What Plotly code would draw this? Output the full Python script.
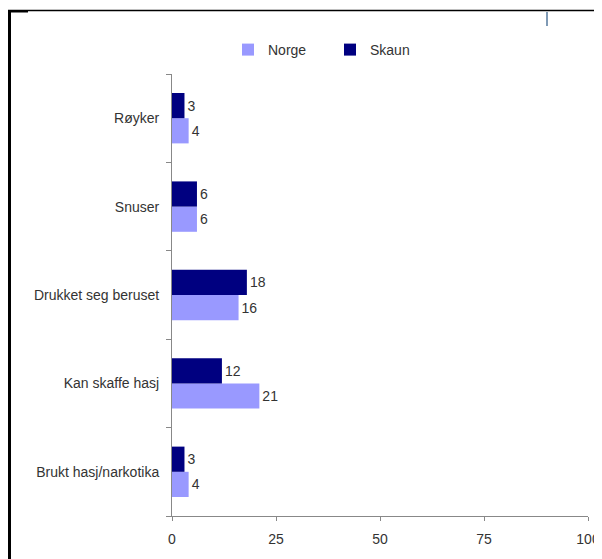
import plotly.graph_objects as go

# kategorier, ovenfra og ned som i figuren
kategorier = ["Røyker", "Snuser", "Drukket seg beruset", "Kan skaffe hasj", "Brukt hasj/narkotika"]
norge = [4, 6, 16, 21, 4]
skaun = [3, 6, 18, 12, 3]
x_ticks = [0, 25, 50, 75, 100]

# siden har 8 px marg i body, så figuren gjøres 8 px mindre
OFF = 8
W, H = 602 - OFF, 559 - OFF
ML, MT = 172 - OFF, 74 - OFF
MR = W - (588 - OFF)
MB = H - (516 - OFF)
PW, PH = W - ML - MR, H - MT - MB


def px(x):
    # sidekoordinat -> paper
    return (x - OFF - ML) / PW


def py(y):
    return (H - MB - (y - OFF)) / PH


font = "Liberation Sans, Arial, sans-serif"
tekst = "#333333"

fig = go.Figure()
fig.add_trace(go.Bar(y=kategorier, x=norge, orientation="h", name="Norge",
                     marker_color="#9999ff", marker_line_width=0,
                     text=norge, textposition="outside", cliponaxis=False,
                     textfont=dict(size=14, color=tekst, family=font)))
fig.add_trace(go.Bar(y=kategorier, x=skaun, orientation="h", name="Skaun",
                     marker_color="#000080", marker_line_width=0,
                     text=skaun, textposition="outside", cliponaxis=False,
                     textfont=dict(size=14, color=tekst, family=font)))

# ramme rundt figuren (fra skjermbildet)
shapes = [
    dict(type="line", xref="paper", yref="paper", x0=px(9.5), x1=px(9.5), y0=py(10), y1=py(565),
         line=dict(color="black", width=3)),
    dict(type="line", xref="paper", yref="paper", x0=px(8), x1=px(610), y0=py(10.5), y1=py(10.5),
         line=dict(color="black", width=1.5)),
    dict(type="line", xref="paper", yref="paper", x0=px(8), x1=px(28), y0=py(11.5), y1=py(11.5),
         line=dict(color="black", width=2)),
    dict(type="line", xref="paper", yref="paper", x0=px(547), x1=px(547), y0=py(12), y1=py(26),
         line=dict(color="#7f9ab5", width=2)),
]

fig.update_layout(
    width=W, height=H,
    margin=dict(l=ML, r=MR, t=MT, b=MB, autoexpand=False),
    paper_bgcolor="white", plot_bgcolor="white",
    barmode="group", bargap=0.43, bargroupgap=0,
    font=dict(family=font, size=14, color=tekst),
    showlegend=True,
    legend=dict(orientation="h", x=px(228), y=py(50), xanchor="left", yanchor="middle",
                font=dict(size=14, color=tekst), entrywidth=57, entrywidthmode="pixels",
                itemclick=False),
    shapes=shapes,
)
fig.update_xaxes(range=[0, 100], tickvals=x_ticks, showgrid=False, zeroline=False,
                 automargin=False,
                 showline=True, linecolor="#888888", linewidth=1,
                 ticks="outside", ticklen=4, tickcolor="#888888", ticklabelstandoff=6,
                 tickfont=dict(size=14, color=tekst))
fig.update_yaxes(categoryorder="array", categoryarray=kategorier[::-1],
                 automargin=False,
                 showgrid=False, showline=True, linecolor="#888888", linewidth=1,
                 ticks="outside", ticklen=5, tickcolor="#888888", tickson="boundaries",
                 ticklabelstandoff=9, tickfont=dict(size=14, color=tekst))

fig.write_html("out.html")
